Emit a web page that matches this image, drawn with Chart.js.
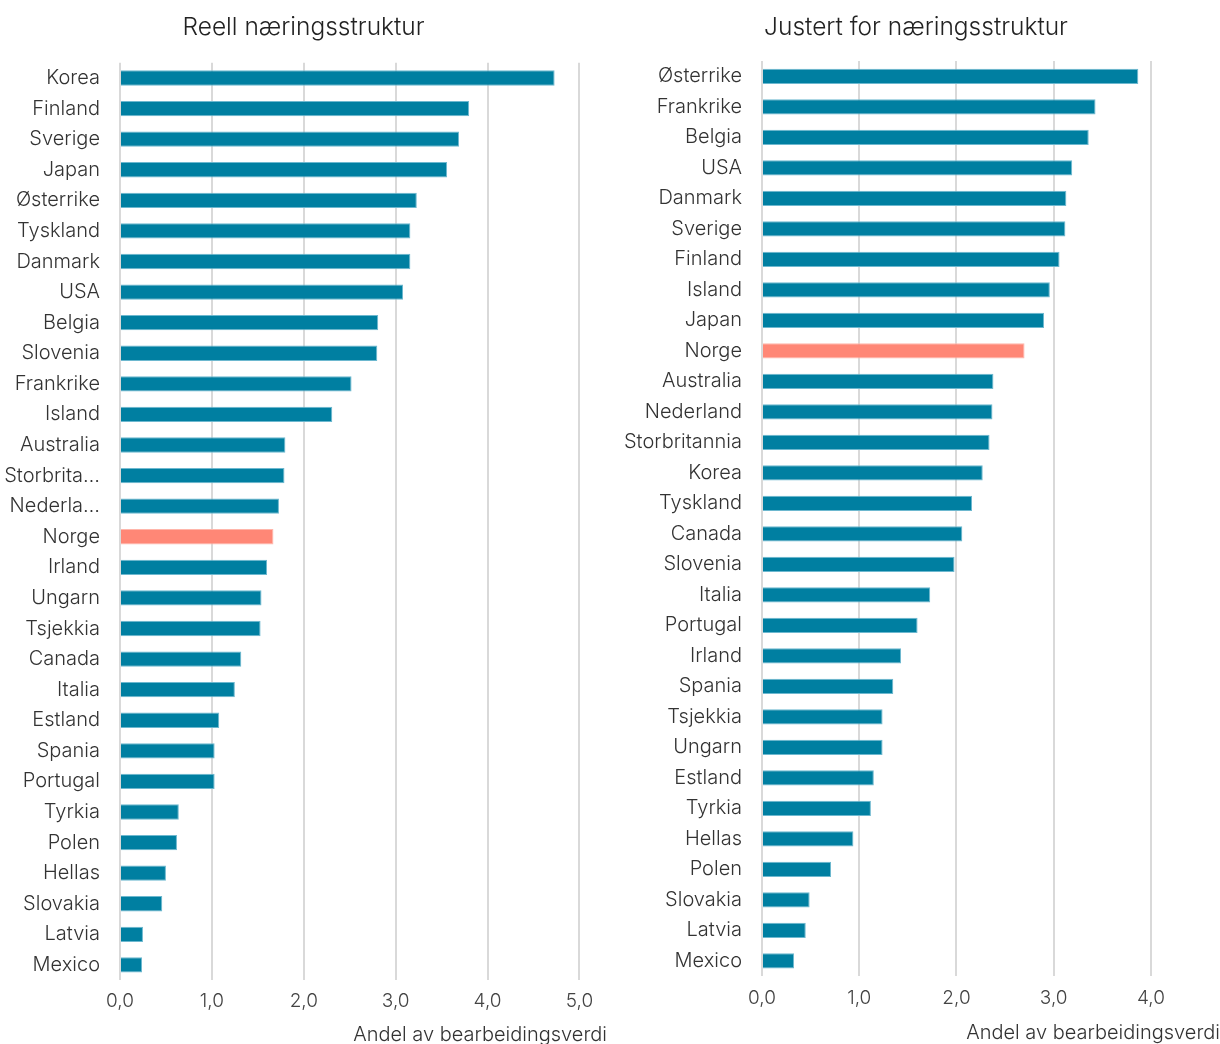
<!DOCTYPE html>
<html>
<head>
<meta charset="utf-8">
<script src="https://cdn.jsdelivr.net/npm/chart.js@4.4.1/dist/chart.umd.min.js"></script>
<style>
    html, body { margin: 0; padding: 0; background: #fff; width: 1220px; height: 1044px; overflow: hidden; }
    .panel { position: absolute; top: 0; }
    #left-panel { left: 0; }
    #right-panel { left: 612px; }
</style>
</head>
<body>
<div class="panel" id="left-panel"><canvas id="leftChart" width="612" height="1052"></canvas></div>
<div class="panel" id="right-panel"><canvas id="rightChart" width="614" height="1052"></canvas></div>
<script>
var leftCountries = ['Korea', 'Finland', 'Sverige', 'Japan', 'Østerrike', 'Tyskland', 'Danmark', 'USA',
    'Belgia', 'Slovenia', 'Frankrike', 'Island', 'Australia', 'Storbritannia', 'Nederland', 'Norge',
    'Irland', 'Ungarn', 'Tsjekkia', 'Canada', 'Italia', 'Estland', 'Spania', 'Portugal', 'Tyrkia',
    'Polen', 'Hellas', 'Slovakia', 'Latvia', 'Mexico'];
var leftValues = [4.73, 3.80, 3.69, 3.56, 3.23, 3.16, 3.16, 3.08, 2.81, 2.80, 2.52, 2.31, 1.80, 1.79,
    1.73, 1.67, 1.60, 1.54, 1.53, 1.32, 1.25, 1.08, 1.03, 1.03, 0.64, 0.62, 0.50, 0.46, 0.25, 0.24];

var rightCountries = ['Østerrike', 'Frankrike', 'Belgia', 'USA', 'Danmark', 'Sverige', 'Finland',
    'Island', 'Japan', 'Norge', 'Australia', 'Nederland', 'Storbritannia', 'Korea', 'Tyskland',
    'Canada', 'Slovenia', 'Italia', 'Portugal', 'Irland', 'Spania', 'Tsjekkia', 'Ungarn', 'Estland',
    'Tyrkia', 'Hellas', 'Polen', 'Slovakia', 'Latvia', 'Mexico'];
var rightValues = [3.87, 3.43, 3.36, 3.19, 3.13, 3.12, 3.06, 2.96, 2.90, 2.70, 2.38, 2.37, 2.34, 2.27,
    2.16, 2.06, 1.98, 1.73, 1.60, 1.43, 1.35, 1.24, 1.24, 1.15, 1.12, 0.94, 0.71, 0.49, 0.45, 0.33];

// labels that are cut short in the left panel
var leftShortLabels = { 'Storbritannia': 'Storbrita…', 'Nederland': 'Nederla…' };

var leftTicks = [0, 1, 2, 3, 4, 5];
var rightTicks = [0, 1, 2, 3, 4];

var axisTitle = 'Andel av bearbeidingsverdi';
var highlight = 'Norge';

(function () {
    var FONT = 'Inter, Roboto, "Noto Sans", sans-serif';
    var BAR = '#007FA1', BAR_EDGE = '#6db8cf';
    var HI = '#FF8776', HI_EDGE = '#ffb6ab';

    function fmt(v) { return v.toFixed(1).replace('.', ','); }

    function makeChart(canvasId, opts) {
        var colors = opts.labels.map(function (c) { return c === highlight ? HI : BAR; });
        var edges = opts.labels.map(function (c) { return c === highlight ? HI_EDGE : BAR_EDGE; });

        return new Chart(document.getElementById(canvasId), {
            type: 'bar',
            data: {
                labels: opts.labels,
                datasets: [{
                    data: opts.values,
                    backgroundColor: colors,
                    borderColor: edges,
                    borderWidth: 1,
                    barPercentage: 0.5,
                    categoryPercentage: 1,
                }],
            },
            options: {
                indexAxis: 'y',
                responsive: false,
                animation: false,
                devicePixelRatio: 1,
                layout: { padding: { left: 0, right: opts.padRight, top: 0, bottom: 0 } },
                plugins: {
                    legend: { display: false },
                    tooltip: { enabled: false },
                    title: {
                        display: true,
                        text: opts.title,
                        color: '#222',
                        font: { family: FONT, size: 24.5, weight: '300' },
                        padding: { top: 12.5, bottom: opts.titleGap },
                    },
                    subtitle: {
                        display: true,
                        position: 'bottom',
                        align: 'end',
                        text: axisTitle,
                        color: '#333',
                        font: { family: FONT, size: 20, weight: '300' },
                        padding: { top: 0, bottom: opts.bottomGap },
                    },
                },
                scales: {
                    x: {
                        min: 0,
                        // axis runs a little past the last gridline, as in the original
                        max: opts.axisMax,
                        afterBuildTicks: function (axis) {
                            axis.ticks = opts.ticks.map(function (v) { return { value: v }; });
                        },
                        grid: { color: '#d9d9d9', lineWidth: 2, drawTicks: false },
                        border: { display: false },
                        ticks: {
                            padding: opts.tickPad,
                            color: '#444',
                            font: { family: FONT, size: 19, weight: '300' },
                            callback: function (v) { return fmt(v); },
                        },
                    },
                    y: {
                        grid: { display: false, drawTicks: false },
                        border: { display: false },
                        afterFit: function (axis) {
                            axis.width = opts.axisWidth;
                            axis.paddingTop = 0;
                            axis.paddingBottom = 0;
                        },
                        ticks: {
                            padding: 20,
                            color: '#333',
                            autoSkip: false,
                            font: { family: FONT, size: 20, weight: '300' },
                            callback: function (v) {
                                var name = this.getLabelForValue(v);
                                return (opts.short && opts.short[name]) || name;
                            },
                        },
                    },
                },
            },
        });
    }

    makeChart('leftChart', {
        labels: leftCountries,
        values: leftValues,
        ticks: leftTicks,
        axisMax: 5.30,
        title: 'Reell næringsstruktur',
        short: leftShortLabels,
        axisWidth: 120,
        padRight: 5,
        titleGap: 20.8,
        bottomGap: 5,
        tickPad: 10,
    });

    makeChart('rightChart', {
        labels: rightCountries,
        values: rightValues,
        ticks: rightTicks,
        axisMax: 4.71,
        title: 'Justert for næringsstruktur',
        axisWidth: 150,
        padRight: 6,
        titleGap: 19.1,
        bottomGap: 7,
        tickPad: 11,
    });
})();
</script>
</body>
</html>
